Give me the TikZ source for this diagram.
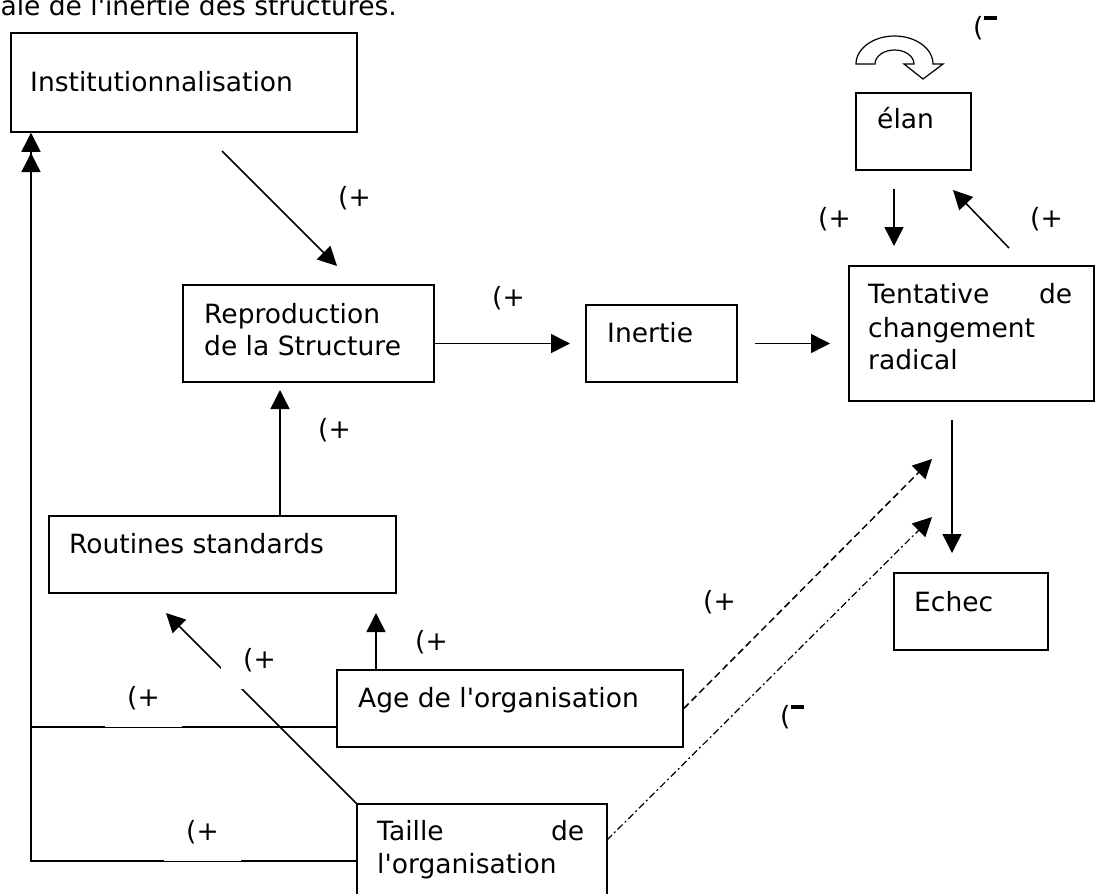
\documentclass[tikz,border=0pt]{standalone}
\usepackage{fontspec}
\setmainfont{DejaVu Sans}[Ligatures=TeXOff]
\usetikzlibrary{arrows.meta}
\newcommand{\mneg}{(\rule[0.62em]{0.5em}{0.14em}}

\begin{document}
\begin{tikzpicture}[x=1pt, y=-1pt, font=\fontsize{26.5}{30}\selectfont,
	box/.style={draw, line width=1.5pt, inner sep=0pt},
	txt/.style={anchor=base west, inner sep=0pt},
	arr/.style={line width=1.5pt, -{Triangle[length=19pt, width=19pt]}},
	lbl/.style={anchor=base west, inner sep=0pt},
	lblw/.style={lbl, fill=white, inner xsep=22pt, text height=19pt, text depth=21pt, xshift=-22pt}]
				\useasboundingbox (0,0) rectangle (1095,894);
				\node[txt, anchor=base east] (titre) at (397,15) {ale de l'inertie des structures.};
				\node[box, minimum width=346pt, minimum height=99pt] (inst) at (184,82.5) {};
				\node[box, minimum width=115pt, minimum height=77pt] (elan) at (913.5,131.5) {};
				\node[box, minimum width=251pt, minimum height=97pt] (repro) at (308.5,333.5) {};
				\node[box, minimum width=151pt, minimum height=77pt] (inertie) at (661.5,343.5) {};
				\node[box, minimum width=245pt, minimum height=135pt] (tent) at (971.5,333.5) {};
				\node[box, minimum width=347pt, minimum height=77pt] (routines) at (222.5,554.5) {};
				\node[box, minimum width=154pt, minimum height=77pt] (echec) at (971,611.5) {};
				\node[box, minimum width=346pt, minimum height=77pt] (age) at (510,708.5) {};
				\node[box, minimum width=250pt, minimum height=110pt] (taille) at (482,859) {};
				\node[txt] (inst-t) at (30,91) {Institutionnalisation};
				\node[txt] (elan-t) at (877,128) {élan};
				\node[txt] (repro-t1) at (204,323) {Reproduction};
				\node[txt] (repro-t2) at (204,355) {de la Structure};
				\node[txt] (inertie-t) at (607,342) {Inertie};
				\node[txt] (tent-t1) at (868,303) {\makebox[204pt][s]{Tentative de}};
				\node[txt] (tent-t2) at (868,337) {changement};
				\node[txt] (tent-t3) at (868,369) {radical};
				\node[txt] (routines-t) at (69,553) {Routines standards};
				\node[txt] (echec-t) at (914,611) {Echec};
				\node[txt] (age-t) at (358,707) {Age de l'organisation};
				\node[txt] (taille-t1) at (377,840) {\makebox[207pt][s]{Taille de}};
				\node[txt] (taille-t2) at (377,873) {l'organisation};
				\draw[line width=1.2pt, fill=white] (856,64) arc[start angle=180, end angle=360, x radius=38.5, y radius=28]
					-- (943,64) -- (923,79) -- (904,64) -- (914,64)
					arc[start angle=360, end angle=180, x radius=19.5, y radius=14] -- cycle;
				\coordinate (a1) at (222,151);
				\coordinate (a2) at (337,266);
				\coordinate (b2) at (570,343.5);
				\coordinate (c1) at (755,343.5);
				\coordinate (c2) at (830,343.5);
				\coordinate (d2) at (376,613);
				\coordinate (e2) at (280,390);
				\coordinate (f1) at (894,189);
				\coordinate (f2) at (894,246);
				\coordinate (k1) at (1009,248);
				\coordinate (k2) at (953,190);
				\coordinate (m1) at (952,420);
				\coordinate (m2) at (952,553);
				\coordinate (g1) at (337,727);
				\coordinate (g2) at (31,727);
				\coordinate (h1) at (357,861);
				\coordinate (h2) at (31,861);
				\coordinate (h3) at (31,153);
				\coordinate (n2) at (932,459);
				\coordinate (p1) at (607,840);
				\coordinate (p2) at (932,517);
				\draw[arr] (a1) -- (a2);
				\draw[arr] (repro.east |- inertie.west) -- (b2);
				\draw[arr] (c1) -- (c2);
				\draw[arr] (f1) -- (f2);
				\draw[arr] (k1) -- (k2);
				\draw[arr] (m1) -- (m2);
				\draw[arr] (routines.north -| e2) -- (e2);
				\draw[arr] (age.north -| d2) -- (d2);
				\draw[arr] (taille.north west) -- (166,613);
				\draw[arr] (g1) -- (g2) -- (inst.south -| g2);
				\draw[arr] (h1) -- (h2) -- (h3);
				\draw[arr, dash pattern=on 7pt off 4pt] (age.east) -- (n2);
				\draw[arr, line width=1.2pt, dash pattern=on 7pt off 3pt on 2pt off 3pt] (p1) -- (p2);
				\node[lbl] (l1) at (338,206) {(+};
				\node[lbl] (l2) at (492,306) {(+};
				\node[lbl] (l3) at (318,438) {(+};
				\node[lbl] (l4) at (415,650) {(+};
				\node[lblw] (l5) at (243,668) {(+};
				\node[lblw] (l6) at (127,706) {(+};
				\node[lblw] (l7) at (186,840) {(+};
				\node[lbl] (l8) at (703,610) {(+};
				\node[lbl] (l9) at (780,725) {\mneg};
				\node[lbl] (l10) at (818,227) {(+};
				\node[lbl] (l11) at (1030,227) {(+};
				\node[lbl] (l12) at (973,36) {\mneg};
			\end{tikzpicture}
\end{document}
